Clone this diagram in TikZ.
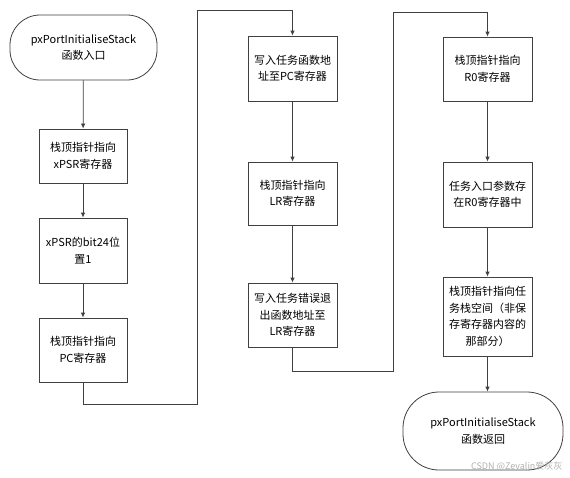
\documentclass[tikz,border=0pt]{standalone}
\usepackage{fontspec}
\setmainfont{Noto Sans CJK SC}
\usetikzlibrary{arrows.meta}
\begin{document}
\begin{tikzpicture}[x=1pt,y=-1pt,
  box/.style={draw=black!75,line width=0.8pt,align=center,font=\fontsize{11}{16.5}\selectfont,inner sep=0pt},
  term/.style={box,rounded corners=30pt},
  arr/.style={draw=black!75,line width=0.8pt,-{Latex[length=5pt,width=4.5pt]}},
  ln/.style={draw=black!75,line width=0.8pt}]
\useasboundingbox (0,0) rectangle (570,477);
\fill[white] (0,0) rectangle (570,477);
% column 1
\node[term,minimum width=147pt,minimum height=65pt] (s) at (83.5,47.5) {pxPortInitialiseStack\\函数入口};
\node[box,minimum width=88pt,minimum height=54pt] (b1) at (83,156) {栈顶指针指向\\xPSR寄存器};
\node[box,minimum width=88pt,minimum height=65pt] (b2) at (83,250.5) {xPSR的bit24位\\置1};
\node[box,minimum width=88pt,minimum height=64pt] (b3) at (83,350) {栈顶指针指向\\PC寄存器};
% column 2
\node[box,minimum width=89pt,minimum height=65pt] (b4) at (292.5,68.5) {写入任务函数地\\址至PC寄存器};
\node[box,minimum width=89pt,minimum height=63pt] (b5) at (292.5,193.5) {栈顶指针指向\\LR寄存器};
\node[box,minimum width=89pt,minimum height=64pt] (b6) at (292.5,315) {写入任务错误退\\出函数地址至\\LR寄存器};
% column 3
\node[box,minimum width=89pt,minimum height=64pt] (b7) at (487.5,69) {栈顶指针指向\\R0寄存器};
\node[box,minimum width=89pt,minimum height=65pt] (b8) at (487.5,194.5) {任务入口参数存\\在R0寄存器中};
\node[box,minimum width=89pt,minimum height=79pt] (b9) at (487.5,316.5) {栈顶指针指向任\\务栈空间（非保\\存寄存器内容的\\那部分）};
\node[term,rounded corners=36pt,minimum width=160pt,minimum height=78pt] (e) at (483,431) {pxPortInitialiseStack\\函数返回};
% watermark
\node[font=\fontsize{9}{10}\selectfont,text=black!30,anchor=east] (wm) at (566,466) {CSDN @Zevalin爱灰灰};
% connector coordinates
\coordinate (k1) at (197,404);
\coordinate (k2) at (197,10);
\coordinate (k3) at (393,371);
\coordinate (k4) at (393,12);
% connectors
\draw[arr] (s) -- (b1);
\draw[arr] (b1) -- (b2);
\draw[arr] (b2) -- (b3);
\draw[arr] (b3.south) |- (k1) -- (k2) -| (b4.north);
\draw[arr] (b4) -- (b5);
\draw[arr] (b5) -- (b6);
\draw[arr] (b6.south) |- (k3) -- (k4) -| (b7.north);
\draw[arr] (b7) -- (b8);
\draw[arr] (b8) -- (b9);
\draw[arr] (b9.south) -- (b9.south |- e.north);
\end{tikzpicture}
\end{document}
